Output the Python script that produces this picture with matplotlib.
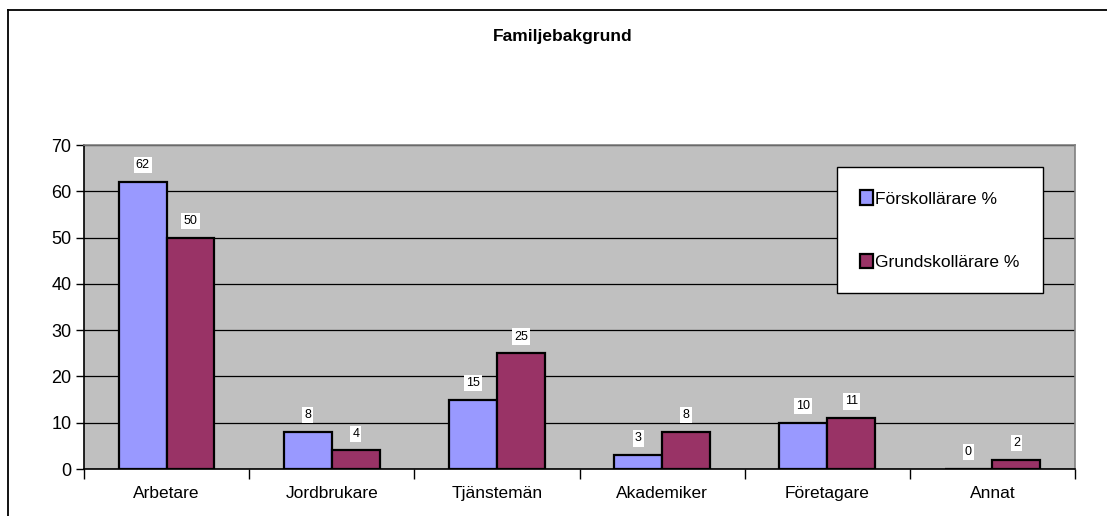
import numpy as np
import matplotlib.pyplot as plt
from matplotlib.lines import Line2D

plt.rcParams['font.family'] = ['Liberation Sans', 'DejaVu Sans']

categories = ['Arbetare', 'Jordbrukare', 'Tjänstemän', 'Akademiker', 'Företagare', 'Annat']
forskol = [62, 8, 15, 3, 10, 0]
grundskol = [50, 4, 25, 8, 11, 2]
series_names = ['Förskollärare %', 'Grundskollärare %']
yticks = [0, 10, 20, 30, 40, 50, 60, 70]

W, H = 1107, 516
fig = plt.figure(figsize=(W / 100, H / 100), dpi=100)

# plot area in pixels: left 84, right 1075, top 145, bottom 469
ax = fig.add_axes([84 / W, 1 - 469 / H, (1075 - 84) / W, (469 - 145) / H])
ax.set_facecolor('#C0C0C0')

x = np.arange(len(categories))
bw = 0.29
b1 = ax.bar(x - bw / 2, forskol, bw, color='#9999FF', edgecolor='black', linewidth=1.6,
            label=series_names[0], zorder=3)
b2 = ax.bar(x + bw / 2, grundskol, bw, color='#993366', edgecolor='black', linewidth=1.6,
            label=series_names[1], zorder=3)

for bars, vals in [(b1, forskol), (b2, grundskol)]:
    for rect, v in zip(bars, vals):
        ax.annotate(str(v), (rect.get_x() + rect.get_width() / 2, v),
                    xytext=(0, 12), textcoords='offset points', ha='center', va='center',
                    fontsize=9, bbox=dict(facecolor='white', edgecolor='none', pad=1.5),
                    zorder=4)

ax.set_xlim(-0.5, len(categories) - 0.5)
ax.set_ylim(0, 70)
ax.set_yticks(yticks)
ax.set_yticklabels([str(t) for t in yticks], fontsize=13)
ax.yaxis.grid(True, color='black', linewidth=0.9, zorder=1)
ax.set_axisbelow(True)

ax.set_xticks(x)
ax.set_xticklabels(categories, fontsize=12.5)
ax.tick_params(axis='x', length=0, pad=12)
ax.set_xticks(np.arange(len(categories) + 1) - 0.5, minor=True)
ax.tick_params(axis='x', which='minor', length=7, width=1, color='black')
ax.tick_params(axis='y', length=6, width=1, color='black', pad=3)

for s in ['top', 'right']:
    ax.spines[s].set_color('#808080')
    ax.spines[s].set_linewidth(1.2)
for s in ['left', 'bottom']:
    ax.spines[s].set_color('black')
    ax.spines[s].set_linewidth(1.2)

leg = ax.legend(loc='upper left', bbox_to_anchor=((837 - 84) / (1075 - 84), 1 - (167 - 145) / (469 - 145)),
                fontsize=12.5, frameon=True, fancybox=False, handlelength=0.7, handleheight=0.9,
                handletextpad=0.15, labelspacing=2.7, borderpad=1.35, borderaxespad=0)
leg.get_frame().set_edgecolor('black')
leg.get_frame().set_linewidth(1.0)
leg.get_frame().set_alpha(1)

fig.text(563 / W, 1 - 37 / H, 'Familjebakgrund', ha='center', va='center',
         fontsize=12.5, fontweight='bold')

# outer chart border (left and top only visible)
fig.add_artist(Line2D([8 / W, 8 / W], [0, 1 - 10 / H], transform=fig.transFigure,
                      color='black', linewidth=1.3))
fig.add_artist(Line2D([8 / W, 1], [1 - 10 / H, 1 - 10 / H], transform=fig.transFigure,
                      color='black', linewidth=1.3))

fig.savefig('out.png', dpi=100)
